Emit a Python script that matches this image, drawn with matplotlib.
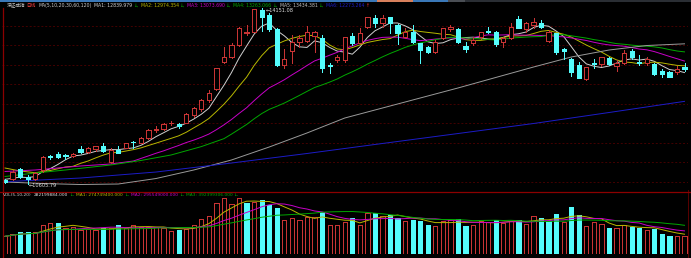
import numpy as np
import pandas as pd
import matplotlib
matplotlib.use("Agg")
import matplotlib.pyplot as plt
from matplotlib.lines import Line2D
from matplotlib.patches import Rectangle

# ---------------- data ----------------
opens = [10680, 10706, 10908, 10741, 10706, 10888, 11170, 11205, 11183, 11177,
         11312, 11257, 11306, 11372, 11055, 11298, 11338, 11451, 11439, 11528,
         11705, 11715, 11836, 11810, 11842, 11998, 12113, 12301, 12522, 13073,
         13174, 13410, 13660, 13679, 14117, 14016, 13727, 13007, 13295, 13477,
         13497, 13592, 13546, 13007, 13108, 13108, 13598, 13457, 13768, 13961,
         13848, 13969, 13814, 13578, 13667, 13445, 13376, 13275, 13546, 13733,
         13733, 13390, 13445, 13566, 13693, 13679, 13477, 13552, 13929, 13727,
         13814, 13860, 13497, 13647, 13324, 13122, 13007, 12718, 13045, 13027,
         13142, 12987, 13053, 13295, 13073, 13041, 13027, 12892, 12872, 12872,
         12972]
highs = [10700, 10888, 10928, 10787, 10854, 11170, 11197, 11257, 11217, 11231,
         11372, 11346, 11378, 11439, 11326, 11366, 11439, 11467, 11548, 11715,
         11776, 11842, 11883, 11836, 12032, 12153, 12321, 12502, 12952, 13376,
         13445, 13780, 13814, 14143, 14151.08, 14050, 13747, 13324, 13612, 13612,
         13800, 13693, 13612, 13041, 13209, 13578, 13646, 13747, 13981, 14016,
         14016, 13981, 13834, 13747, 13814, 13457, 13390, 13511, 13760, 13814,
         13747, 13477, 13578, 13679, 13780, 13699, 13578, 13860, 13996, 13881,
         13949, 13915, 13713, 13659, 13356, 13142, 13073, 12972, 13122, 13174,
         13162, 13108, 13309, 13324, 13209, 13162, 13041, 12920, 12892, 12987,
         13041]
lows = [10625, 10686, 10720, 10605.79, 10686, 10848, 11116, 11124, 11116, 11150,
        11231, 11237, 11277, 11257, 11023, 11225, 11326, 11338, 11427, 11513,
        11661, 11695, 11796, 11729, 11830, 11963, 12085, 12266, 12502, 13041,
        13148, 13390, 13612, 13667, 13693, 13699, 12987, 12940, 13041, 13376,
        13477, 13275, 12872, 12851, 13073, 13073, 13410, 13445, 13747, 13780,
        13780, 13659, 13424, 13546, 13445, 13041, 13243, 13255, 13525, 13699,
        13457, 13275, 13410, 13525, 13646, 13396, 13376, 13525, 13747, 13679,
        13747, 13747, 13477, 13229, 13122, 12785, 12738, 12704, 12940, 12987,
        13013, 12886, 13027, 13122, 13007, 13007, 12805, 12771, 12759, 12825,
        12892]
closes = [10650, 10854, 10741, 10706, 10827, 11150, 11158, 11156, 11177, 11205,
          11245, 11326, 11366, 11271, 11291, 11237, 11427, 11443, 11528, 11695,
          11715, 11816, 11842, 11776, 12012, 12133, 12301, 12448, 12940, 13174,
          13410, 13760, 13667, 14137, 13981, 13727, 13007, 13122, 13465, 13546,
          13667, 13667, 12940, 12987, 13174, 13566, 13457, 13646, 13969, 13848,
          13949, 13860, 13647, 13679, 13465, 13309, 13275, 13477, 13747, 13780,
          13477, 13324, 13511, 13667, 13669, 13431, 13546, 13776, 13760, 13848,
          13881, 13780, 13679, 13275, 13289, 12872, 12750, 12960, 13037, 13162,
          13021, 13053, 13255, 13162, 13041, 13122, 12825, 12819, 12771, 12926,
          12930]
# volume in millions
volumes = [277.5, 313.6, 340.3, 345.0, 340.3, 450.0, 486.0, 486.0, 407.7, 418.7,
           371.6, 396.7, 371.6, 407.7, 407.7, 450.0, 407.7, 450.0, 423.4, 418.7,
           418.7, 407.7, 365.3, 381.0, 392.0, 459.4, 553.5, 591.1, 799.7, 878.0,
           784.0, 878.0, 799.7, 810.7, 851.4, 773.0, 721.3, 537.8, 564.5, 537.8,
           575.5, 575.5, 653.9, 459.4, 459.4, 501.8, 564.5, 454.7, 642.9, 642.9,
           595.8, 611.5, 564.5, 517.4, 533.1, 517.4, 454.7, 439.0, 517.4, 533.1,
           548.8, 439.0, 454.7, 517.4, 501.8, 533.1, 486.0, 517.4, 533.1, 470.4,
           595.8, 564.5, 517.4, 627.2, 501.8, 737.0, 611.5, 439.0, 501.8, 470.4,
           407.7, 407.7, 454.7, 423.4, 407.7, 376.3, 392.0, 313.6, 282.2, 282.2,
           282.2]

# moving-average values before their window is full
ma5_early_idx = [0, 1, 2, 3]
ma5_early = [10700, 10720, 10745, 10735]
ma10_early_idx = [0, 2, 4, 6, 8]
ma10_early = [10928, 10868, 10833, 10878, 10948]
ma20_early_idx = [0, 4, 10, 14, 17]
ma20_early = [10858, 10888, 10969, 11009, 11069]
ma30_early_idx = [0, 4, 8, 14, 18, 22, 26]
ma30_early = [10757, 10827, 10888, 10989, 11080, 11191, 11360]
# long averages
ma60_idx = [0, 5, 10, 15, 20, 25, 30, 35, 40, 45, 50, 55, 60, 65, 70, 75, 80, 85, 90]
ma60_vals = [10646, 10615, 10595, 10605, 10716, 10888, 11090, 11352, 11635, 11937,
             12139, 12341, 12543, 12755, 12966, 13168, 13309, 13400, 13434]
ma120_idx = [0, 10, 20, 30, 40, 50, 60, 70, 80, 90]
ma120_vals = [10652, 10726, 10847, 11029, 11221, 11423, 11624, 11826, 12048, 12273]

title_name = "深证成指"
title_period = "日线"
ma_header = "MA(5,10,20,30,60,120)"
ma_labels = ["MA1: 12839.979", "MA2: 12974.354", "MA3: 13073.690",
             "MA4: 13263.066", "MA5: 13434.381", "MA6: 12273.264"]
ma_arrows = ["↓,", "↓,", "↓,", "↓,", "↓,", "↑"]
vol_header = "VOL(5,10,20)"
vol_value = "282199884.000"
vol_labels = ["MA1: 274749400.000", "MA2: 295549000.000", "MA3: 392399306.000"]
max_label = "14151.08"
min_label = "10605.79"

# ---------------- style ----------------
W, H = 691, 258
RED = "#c83434"
CYAN = "#54fcfc"
GRID = "#440000"
BORDER = "#8c0000"
MA_COLORS = ["#d0d0d0", "#b8b800", "#c800c8", "#00a800", "#9a9a9a", "#1c1cc8"]
VMA_COLORS = ["#b8b800", "#c800c8", "#00a800"]
DOWN_ARROW = "#00c000"
UP_ARROW = "#ff3030"

plt.rcParams["font.family"] = ["DejaVu Sans", "Noto Sans CJK SC"]

O = np.array(opens, float)
Hh = np.array(highs, float)
L = np.array(lows, float)
C = np.array(closes, float)
V = np.array(volumes, float)
n = len(C)
x = np.arange(n)

fig = plt.figure(figsize=(W / 100, H / 100), dpi=100, facecolor="black")
renderer = fig.canvas.get_renderer()

def fx(px):
    return px / W

def fy(py):
    return 1 - py / H

# price axis: pixel rows 7..189
step = 7.55
xmin = -(5 - 2) / step
xmax = xmin + 686 / step
ax = fig.add_axes([fx(2), fy(189), fx(686), 182 / H])
ax.set_facecolor("black")
ax.set_xlim(xmin, xmax)
ax.set_ylim(10504.5, 14177.2)
for s in ax.spines.values():
    s.set_visible(False)
ax.set_xticks([])
ax.set_yticks([])

# grid lines
for gp in np.arange(14197.4, 10500, -394.5):
    ax.axhline(gp, color=GRID, lw=0.7, ls=(0, (2, 2)), zorder=0)

# moving averages
cs = pd.Series(C)
def ma_line(nwin, eidx, evals):
    full = cs.rolling(nwin).mean()
    xi = list(eidx) + list(range(nwin - 1, n))
    yi = list(evals) + list(full.iloc[nwin - 1:])
    return xi, yi

lines = [ma_line(5, ma5_early_idx, ma5_early),
         ma_line(10, ma10_early_idx, ma10_early),
         ma_line(20, ma20_early_idx, ma20_early),
         ma_line(30, ma30_early_idx, ma30_early),
         (ma60_idx, ma60_vals),
         (ma120_idx, ma120_vals)]
for (xi, yi), col in zip(lines, MA_COLORS):
    ax.plot(xi, yi, color=col, lw=0.7, zorder=2)

# candles
up = C >= O
top = np.maximum(O, C)
bot = np.minimum(O, C)
ccol = np.where(up, RED, CYAN)
bw = 0.56
LW = 0.72
ax.vlines(x, top, Hh, colors=ccol, lw=LW, zorder=3, antialiased=False)
ax.vlines(x, L, bot, colors=ccol, lw=LW, zorder=3, antialiased=False)
ax.bar(x[up], (C - O)[up], bottom=O[up], width=bw, facecolor="black",
       edgecolor=RED, linewidth=LW, zorder=4, antialiased=False)
ax.bar(x[~up], (O - C)[~up], bottom=C[~up], width=bw, facecolor=CYAN,
       edgecolor=CYAN, linewidth=LW, zorder=4, antialiased=False)

# max / min markers
imax = int(np.argmax(Hh))
imin = int(np.argmin(L))
ax.annotate("←" + max_label, (imax, Hh[imax]), xytext=(3, -1.3), textcoords="offset points",
            color="#e0e0e0", fontsize=3.6, va="center", ha="left", zorder=6)
ax.annotate("←" + min_label, (imin, L[imin]), xytext=(0.5, -1.4), textcoords="offset points",
            color="#e0e0e0", fontsize=3.6, va="center", ha="left", zorder=6)

# volume axis: pixel rows 193..254
vax = fig.add_axes([fx(2), fy(254), fx(686), 61 / H])
vax.set_facecolor("black")
vax.set_xlim(xmin, xmax)
vax.set_ylim(0, 61 * 15.68)
for s in vax.spines.values():
    s.set_visible(False)
vax.set_xticks([])
vax.set_yticks([])
prevC = np.r_[C[0], C[:-1]]
vup = C >= prevC
vax.bar(x[vup], V[vup], width=bw, facecolor="black", edgecolor=RED,
        linewidth=LW, zorder=3, antialiased=False)
vax.bar(x[~vup], V[~vup], width=bw, facecolor=CYAN, edgecolor=CYAN,
        linewidth=LW, zorder=3, antialiased=False)
vs = pd.Series(V)
for nwin, col in zip([5, 10, 20], VMA_COLORS):
    vax.plot(x, vs.rolling(nwin, min_periods=1).mean(), color=col, lw=0.7, zorder=4)

# borders / separators
fig.add_artist(Line2D([fx(2.5), fx(2.5)], [fy(8), fy(258)], color=BORDER, lw=0.9))
fig.add_artist(Line2D([fx(688), fx(688)], [fy(190), fy(258)], color="#5a0000", lw=0.7))
fig.add_artist(Line2D([0, 1], [fy(191.5), fy(191.5)], color=BORDER, lw=0.9))

# top tab strip
strip = [(0, 377, "#3a78b8"), (377, 413, "#d8805c"), (413, 448, "#3a78b8"),
         (448, 465, "#4a4e54"), (465, 691, "#2a2e34")]
for a, b, col in strip:
    fig.add_artist(Rectangle((fx(a), fy(2.3)), fx(b - a), 2.3 / H, color=col, lw=0))

# header rows: segments flow left to right at one size fitted to the reference span
def flow(x0, x1, py, segs, base=4.0):
    def place(size, draw):
        cur = x0
        made = []
        for s, col, gap in segs:
            cur += gap
            tx = fig.text(fx(cur), fy(py), s, color=col, fontsize=size,
                          va="center", ha="left")
            cur += tx.get_window_extent(renderer).width
            made.append(tx)
        if not draw:
            for tx in made:
                tx.remove()
        return cur
    total = place(base, False) - x0
    gaps = sum(g for _, _, g in segs)
    size = base * (x1 - x0 - gaps) / (total - gaps)
    place(min(size, base), True)

row1 = [(title_name, "#c8c8c8", 0), (title_period, "#ff4040", 0.5),
        (ma_header, "#c8c8c8", 3)]
for s, col, arr in zip(ma_labels, MA_COLORS, ma_arrows):
    row1.append((s, col if col != "#9a9a9a" else "#c0c0c0", 2.5))
    row1.append((arr, DOWN_ARROW if arr.startswith("↓") else UP_ARROW, 0.5))
flow(7, 365, 5.5, row1)

row2 = [(vol_header, "#c8c8c8", 0), (vol_value, "#e0e0e0", 2.5), ("↓,", DOWN_ARROW, 0.5)]
for s, col in zip(vol_labels, VMA_COLORS):
    row2.append((s, col, 2.5))
    row2.append(("↓,", DOWN_ARROW, 0.5))
flow(3, 240, 195.5, row2)

fig.savefig("out.png", dpi=100, facecolor="black")
